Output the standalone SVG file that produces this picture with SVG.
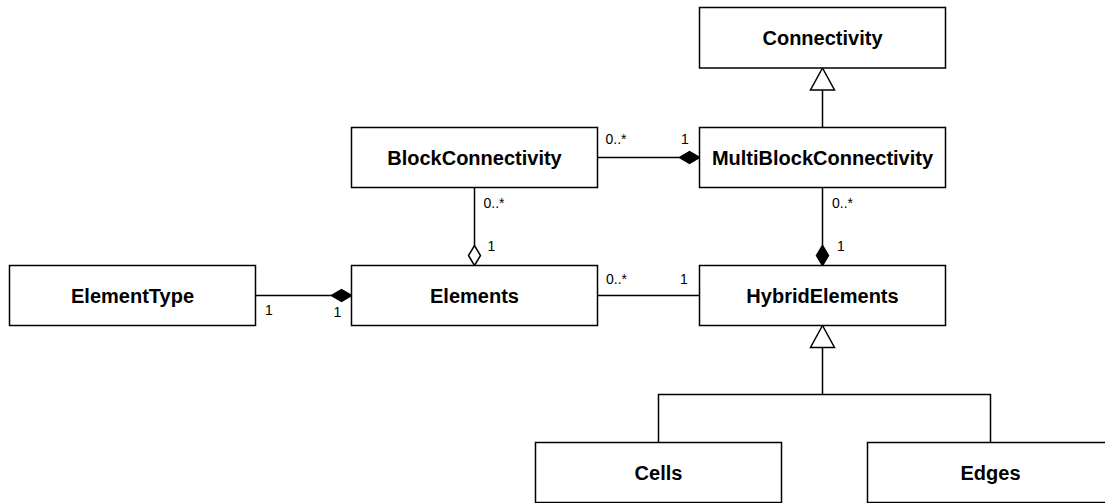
<svg xmlns="http://www.w3.org/2000/svg" width="1105" height="503" viewBox="0 0 1105 503">
  <style>
    .box { fill: #ffffff; stroke: #000000; stroke-width: 1.5; }
    .name { font-family: "Liberation Sans", Arial, Helvetica, sans-serif; font-size: 20px; font-weight: bold; fill: #000000; text-anchor: middle; }
    .mult { font-family: "Liberation Sans", Arial, Helvetica, sans-serif; font-size: 14px; fill: #000000; }
    .edge { fill: none; stroke: #000000; stroke-width: 1.5; }
    .filled { fill: #000000; stroke: #000000; stroke-width: 1.5; stroke-linejoin: miter; }
    .hollow { fill: #ffffff; stroke: #000000; stroke-width: 1.5; stroke-linejoin: miter; }
  </style>
  <rect width="1105" height="503" fill="#ffffff"/>

  <!-- connectors: lines, association ends and generalization heads -->
  <g id="connectors">
    <!-- MultiBlockConnectivity is a Connectivity -->
    <line class="edge" x1="822.5" y1="127.5" x2="822.5" y2="90"/>
    <polygon class="hollow" points="822.5,68 834.5,90 810.5,90"/>

    <!-- BlockConnectivity composed into MultiBlockConnectivity -->
    <line class="edge" x1="597.5" y1="157.5" x2="679.5" y2="157.5"/>
    <polygon class="filled" points="699.5,157.5 689.5,151.5 679.5,157.5 689.5,163.5"/>
    <text class="mult" x="605.5" y="144">0..*</text>
    <text class="mult" x="681" y="144">1</text>

    <!-- BlockConnectivity aggregated into Elements -->
    <line class="edge" x1="474.5" y1="187.5" x2="474.5" y2="245.5"/>
    <polygon class="hollow" points="474.5,265.5 468.5,255.5 474.5,245.5 480.5,255.5"/>
    <text class="mult" x="483.5" y="207.5">0..*</text>
    <text class="mult" x="487.5" y="251">1</text>

    <!-- MultiBlockConnectivity composed into HybridElements -->
    <line class="edge" x1="822.5" y1="187.5" x2="822.5" y2="245.5"/>
    <polygon class="filled" points="822.5,265.5 816.5,255.5 822.5,245.5 828.5,255.5"/>
    <text class="mult" x="832" y="207.5">0..*</text>
    <text class="mult" x="837" y="251">1</text>

    <!-- ElementType composed into Elements -->
    <line class="edge" x1="255.5" y1="295.5" x2="331.5" y2="295.5"/>
    <polygon class="filled" points="351.5,295.5 341.5,289.5 331.5,295.5 341.5,301.5"/>
    <text class="mult" x="265" y="314.5">1</text>
    <text class="mult" x="333.5" y="316.5">1</text>

    <!-- Elements associated with HybridElements -->
    <line class="edge" x1="597.5" y1="295.5" x2="699.5" y2="295.5"/>
    <text class="mult" x="606" y="284">0..*</text>
    <text class="mult" x="680" y="284">1</text>

    <!-- Cells and Edges are HybridElements -->
    <polygon class="hollow" points="822.5,325.5 834.5,347.5 810.5,347.5"/>
    <line class="edge" x1="822.5" y1="347.5" x2="822.5" y2="394.5"/>
    <polyline class="edge" points="658.5,442.5 658.5,394.5 990.5,394.5 990.5,442.5"/>
  </g>

  <g id="connectivity">
    <rect class="box" x="699.5" y="7.5" width="246" height="60.5"/>
    <text class="name" x="822.5" y="45">Connectivity</text>
  </g>
  <g id="block-connectivity">
    <rect class="box" x="351.5" y="127.5" width="246" height="60"/>
    <text class="name" x="474.5" y="164.5">BlockConnectivity</text>
  </g>
  <g id="multi-block-connectivity">
    <rect class="box" x="699.5" y="127.5" width="246" height="60"/>
    <text class="name" x="822.5" y="164.5">MultiBlockConnectivity</text>
  </g>
  <g id="element-type">
    <rect class="box" x="9.5" y="265.5" width="246" height="60"/>
    <text class="name" x="132.5" y="302.5">ElementType</text>
  </g>
  <g id="elements">
    <rect class="box" x="351.5" y="265.5" width="246" height="60"/>
    <text class="name" x="474.5" y="302.5">Elements</text>
  </g>
  <g id="hybrid-elements">
    <rect class="box" x="699.5" y="265.5" width="246" height="60"/>
    <text class="name" x="822.5" y="302.5">HybridElements</text>
  </g>
  <g id="cells">
    <rect class="box" x="535.5" y="442.5" width="246" height="60"/>
    <text class="name" x="658.5" y="479.5">Cells</text>
  </g>
  <g id="edges">
    <rect class="box" x="867.5" y="442.5" width="246" height="60"/>
    <text class="name" x="990.5" y="479.5">Edges</text>
  </g>
</svg>
